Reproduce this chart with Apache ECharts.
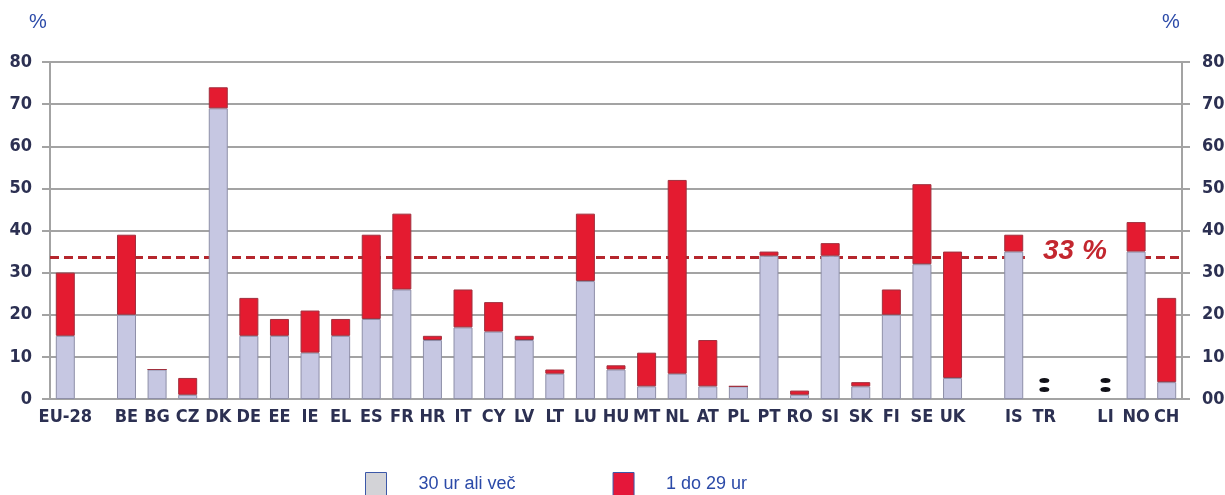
<!DOCTYPE html>
<html><head><meta charset="utf-8">
<script src="https://cdn.jsdelivr.net/npm/echarts@6/dist/echarts.min.js"></script>
<style>html,body{margin:0;padding:0;background:#fff}#c{width:1225px;height:495px}</style>
</head><body><div id="c"></div>
<script>
// ---- data ----
const categories = ['EU-28',' ','BE','BG','CZ','DK','DE','EE','IE','EL','ES','FR','HR','IT','CY','LV','LT','LU','HU','MT','NL','AT','PL','PT','RO','SI','SK','FI','SE','UK','  ','IS','TR','   ','LI','NO','CH'];
const hours30plus = [15,null,20,7,1,69,15,15,11,15,19,26,14,17,16,14,6,28,7,3,6,3,3,34,1,34,3,20,32,5,null,35,null,null,null,35,4];
const hours1to29  = [15,null,19,0,4,5,9,4,10,4,20,18,1,9,7,1,1,16,1,8,46,11,0,1,1,3,1,6,19,30,null,4,null,null,null,7,20];
const seriesNames = ['30 ur ali več', '1 do 29 ur'];
const notAvailable = ['TR','LI'];
const naMarkerLevel = 3.3;
const referenceValue = 33.7;
const referenceLabel = '33 %';
const referenceLabelSlot = 33;
const yTicks = {min: 0, max: 80, interval: 10};
const unitLabel = '%';

// ---- chart ----
const labelFont = "'Liberation Sans Narrow','Arial Narrow','DejaVu Sans Condensed','Liberation Sans',Arial,sans-serif";
const axisColor = '#a3a3a3';
const textDark = '#2c3052';
const chart = echarts.init(document.getElementById('c'), null, {renderer: 'canvas'});

const yAxisBase = {
  type: 'value', min: yTicks.min, max: yTicks.max, interval: yTicks.interval,
  axisLine: {show: true, lineStyle: {color: axisColor, width: 2}},
  axisTick: {show: true, length: 8, lineStyle: {color: axisColor, width: 2}},
};

chart.setOption({
  animation: false,
  backgroundColor: '#ffffff',
  title: [
    {text: unitLabel, left: 29, top: 12, padding: 0, textStyle: {fontSize: 20, fontWeight: 'normal', color: '#2b4aa8', fontFamily: 'Liberation Sans, Arial, sans-serif'}},
    {text: unitLabel, left: 1162, top: 12, padding: 0, textStyle: {fontSize: 20, fontWeight: 'normal', color: '#2b4aa8', fontFamily: 'Liberation Sans, Arial, sans-serif'}}
  ],
  grid: {left: 50, right: 43, top: 62, bottom: 96, containLabel: false, outerBoundsMode: 'none'},
  legend: {
    left: 365, top: 472, padding: 0, itemWidth: 21, itemHeight: 24, itemGap: 97, icon: 'rect',
    textStyle: {fontSize: 18, color: '#2b4aa8', fontFamily: 'Liberation Sans, Arial, sans-serif', padding: [0,0,0,27]},
    data: [
      {name: seriesNames[0], itemStyle: {color: '#d3d3d7', borderColor: '#3c58a8', borderWidth: 1}},
      {name: seriesNames[1], itemStyle: {color: '#e5173a', borderColor: '#3c58a8', borderWidth: 1}}
    ]
  },
  xAxis: {
    type: 'category', data: categories, boundaryGap: true,
    axisLine: {show: true, lineStyle: {color: axisColor, width: 2}},
    axisTick: {show: false},
    axisLabel: {interval: 0, margin: 9, fontSize: 18, fontWeight: 'bold', color: textDark, fontFamily: labelFont}
  },
  yAxis: [
    Object.assign({}, yAxisBase, {
      position: 'left',
      axisLabel: {margin: 18, fontSize: 18, fontWeight: 'bold', color: textDark, fontFamily: labelFont},
      splitLine: {show: true, lineStyle: {color: axisColor, width: 2}}
    }),
    Object.assign({}, yAxisBase, {
      position: 'right',
      axisLabel: {margin: 20, fontSize: 18, fontWeight: 'bold', color: textDark, fontFamily: labelFont, formatter: v => v + '0'},
      splitLine: {show: false}
    })
  ],
  series: [
    {
      name: 'ref', type: 'line', data: [], z: 1, silent: true,
      markLine: {
        z: 1, silent: true, symbol: 'none', label: {show: false},
        lineStyle: {color: '#b5262d', width: 3, type: [9, 5]},
        data: [{yAxis: referenceValue}]
      }
    },
    {
      name: seriesNames[0], type: 'bar', stack: 'total', barWidth: 19, z: 2,
      itemStyle: {color: '#c6c7e2', borderColor: '#8e8fa8', borderWidth: 1},
      data: hours30plus
    },
    {
      name: seriesNames[1], type: 'bar', stack: 'total', barWidth: 19, z: 2,
      itemStyle: {color: '#e41b30', borderColor: '#a0303e', borderWidth: 1},
      data: hours1to29
    },
    {
      name: 'na', type: 'scatter', z: 4, silent: true,
      symbol: 'path://M0,2.5a5,2.5 0 1,0 10,0a5,2.5 0 1,0 -10,0M0,11.5a5,2.5 0 1,0 10,0a5,2.5 0 1,0 -10,0',
      symbolSize: [10, 14],
      itemStyle: {color: '#111118', opacity: 1},
      data: notAvailable.map(c => [categories.indexOf(c), naMarkerLevel])
    },
    {
      name: 'reflabel', type: 'scatter', data: [], z: 10, silent: true,
      markPoint: {
        z: 10, silent: true,
        data: [{
          coord: [referenceLabelSlot, referenceValue],
          symbol: 'rect', symbolSize: [100, 10],
          itemStyle: {color: '#ffffff'},
          label: {show: true, position: 'inside', offset: [0, -6], formatter: referenceLabel,
            fontSize: 28, fontStyle: 'italic', fontWeight: 'bold', color: '#c3272f',
            fontFamily: 'Liberation Sans, Arial, sans-serif'}
        }]
      }
    }
  ]
});
</script>
</body></html>
